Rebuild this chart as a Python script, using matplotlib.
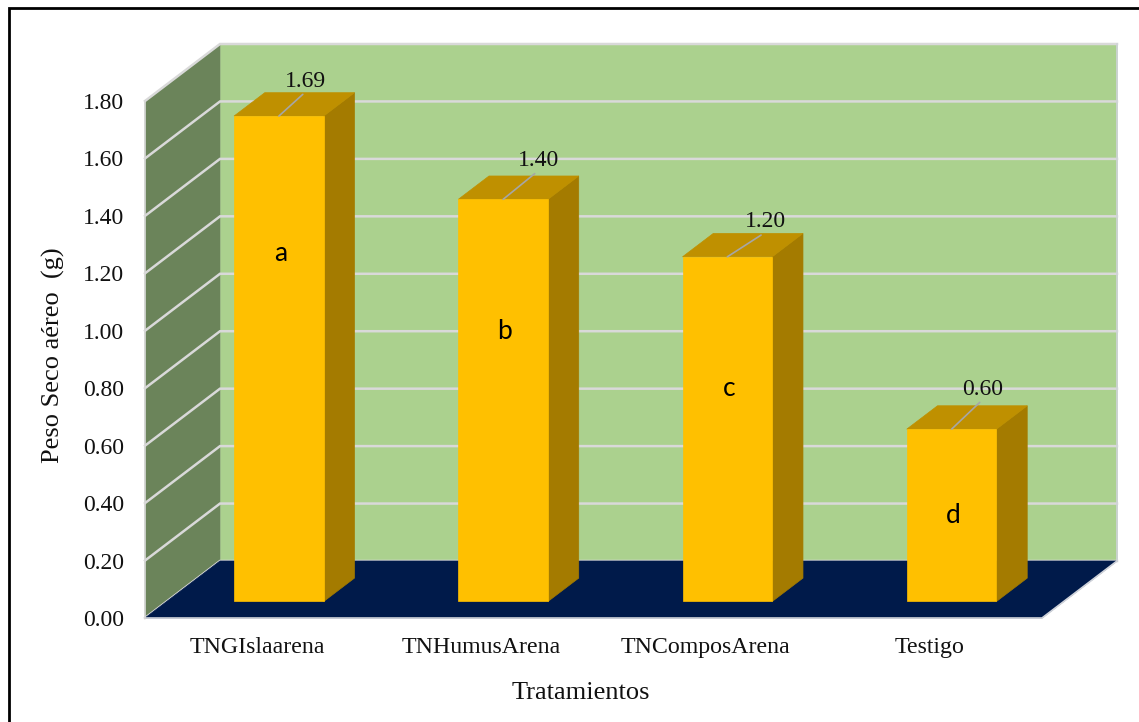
import matplotlib
matplotlib.use("Agg")
import matplotlib.pyplot as plt
from matplotlib.patches import Polygon, Rectangle

plt.rcParams['font.family'] = ['Liberation Serif', 'DejaVu Serif']

# datos
tratamientos = ['TNGIslaarena', 'TNHumusArena', 'TNComposArena', 'Testigo']
peso_seco = [1.69, 1.40, 1.20, 0.60]
letras = ['a', 'b', 'c', 'd']
altura_letras = [1.21, 0.94, 0.74, 0.30]
ticks_y = [0.00, 0.20, 0.40, 0.60, 0.80, 1.00, 1.20, 1.40, 1.60, 1.80]

# tamano de la imagen en pixeles
W, H = 1139, 722

# profundidad del grafico 3D (en unidades de los ejes)
DX = 75 / 224.25
DY = 57 / 287.2
ANCHO = 0.40
Z0 = 0.29
Z1 = 0.70

# desplazamiento de las etiquetas respecto a la barra (pixeles)
desp_x = [27, 35, 38, 31]
desp_y = [35, 39, 35, 40]


def proy(x, y, z):
    return (x + z * DX, y + z * DY)


def cara(ax, puntos, color, zorder):
    ax.add_patch(Polygon([proy(*p) for p in puntos], closed=True, facecolor=color,
                         edgecolor=color, linewidth=0.5, zorder=zorder, clip_on=False))


fig = plt.figure(figsize=(W / 100, H / 100), dpi=100)
ax = fig.add_axes([145 / W, (H - 618) / H, 897 / W, 517 / H])
ax.set_xlim(0, 4)
ax.set_ylim(0, 1.8)

# paredes y piso
cara(ax, [(0, 0, 1), (4, 0, 1), (4, 1.8, 1), (0, 1.8, 1)], '#ABD18E', 1)
cara(ax, [(0, 0, 0), (0, 0, 1), (0, 1.8, 1), (0, 1.8, 0)], '#6B845A', 1)
cara(ax, [(0, 0, 0), (4, 0, 0), (4, 0, 1), (0, 0, 1)], '#001A4A', 2)

# lineas de la cuadricula
for t in ticks_y:
    xs, ys = zip(proy(0, t, 0), proy(0, t, 1), proy(4, t, 1))
    ax.plot(xs, ys, color='#D9D9D9', lw=1.8, zorder=3 if t > 0 else 1.5, clip_on=False,
            solid_joinstyle='miter')
xs, ys = zip(proy(0, 0, 0), proy(4, 0, 0), proy(4, 0, 1), proy(4, 1.8, 1))
ax.plot(xs, ys, color='#D0D3DA', lw=1.2, zorder=3, clip_on=False)
xs, ys = zip(proy(0, 0, 0), proy(0, 1.8, 0))
ax.plot(xs, ys, color='#D9D9D9', lw=1.2, zorder=3, clip_on=False)

# barras
for i, v in enumerate(peso_seco):
    c = i + 0.5
    x0, x1 = c - ANCHO / 2, c + ANCHO / 2
    cara(ax, [(x0, 0, Z0), (x1, 0, Z0), (x1, v, Z0), (x0, v, Z0)], '#FFC000', 6)
    cara(ax, [(x1, 0, Z0), (x1, 0, Z1), (x1, v, Z1), (x1, v, Z0)], '#A47B00', 5)
    cara(ax, [(x0, v, Z0), (x1, v, Z0), (x1, v, Z1), (x0, v, Z1)], '#BF9000', 5)
    # etiqueta con linea guia
    ax.annotate('%.2f' % v, proy(c, v, Z0),
                xytext=(desp_x[i] * 0.72, desp_y[i] * 0.72), textcoords='offset points',
                ha='center', va='center', fontsize=17, color='#111111', zorder=8,
                annotation_clip=False,
                arrowprops=dict(arrowstyle='-', color='#A6A6A6', lw=1.2, shrinkA=0, shrinkB=0,
                                relpos=(0.5, 0)))
    xl, yl = proy(c, altura_letras[i], Z0)
    ax.text(xl + 0.007, yl, letras[i], ha='center', va='center', fontsize=19,
            family='Lato', color='black', zorder=8)

# ejes
for s in ax.spines.values():
    s.set_visible(False)
ax.patch.set_visible(False)
ax.set_xticks([i + 0.5 for i in range(len(tratamientos))])
ax.set_xticklabels(tratamientos, fontsize=17.2, color='#111111')
ax.set_yticks(ticks_y)
ax.set_yticklabels(['%.2f' % t for t in ticks_y], fontsize=17, color='#111111')
ax.tick_params(axis='both', length=0)
ax.tick_params(axis='x', pad=14)
ax.tick_params(axis='y', pad=15)
ax.set_xlabel('Tratamientos', fontsize=19, color='#111111')
ax.set_ylabel('Peso Seco aéreo  (g)', fontsize=19, color='#111111')
ax.xaxis.set_label_coords((581 - 145) / 897, (618 - 693) / 517)
ax.yaxis.set_label_coords((53 - 145) / 897, (618 - 355) / 517)
ax.xaxis.label.set_va('center')
ax.yaxis.label.set_va('center')

# marco negro
fig.add_artist(Rectangle((8.5 / W, -0.02), 1.1, 1 - 8 / H + 0.02, transform=fig.transFigure,
                         facecolor='none', edgecolor='black', linewidth=2))

fig.savefig('out.png', dpi=100)
